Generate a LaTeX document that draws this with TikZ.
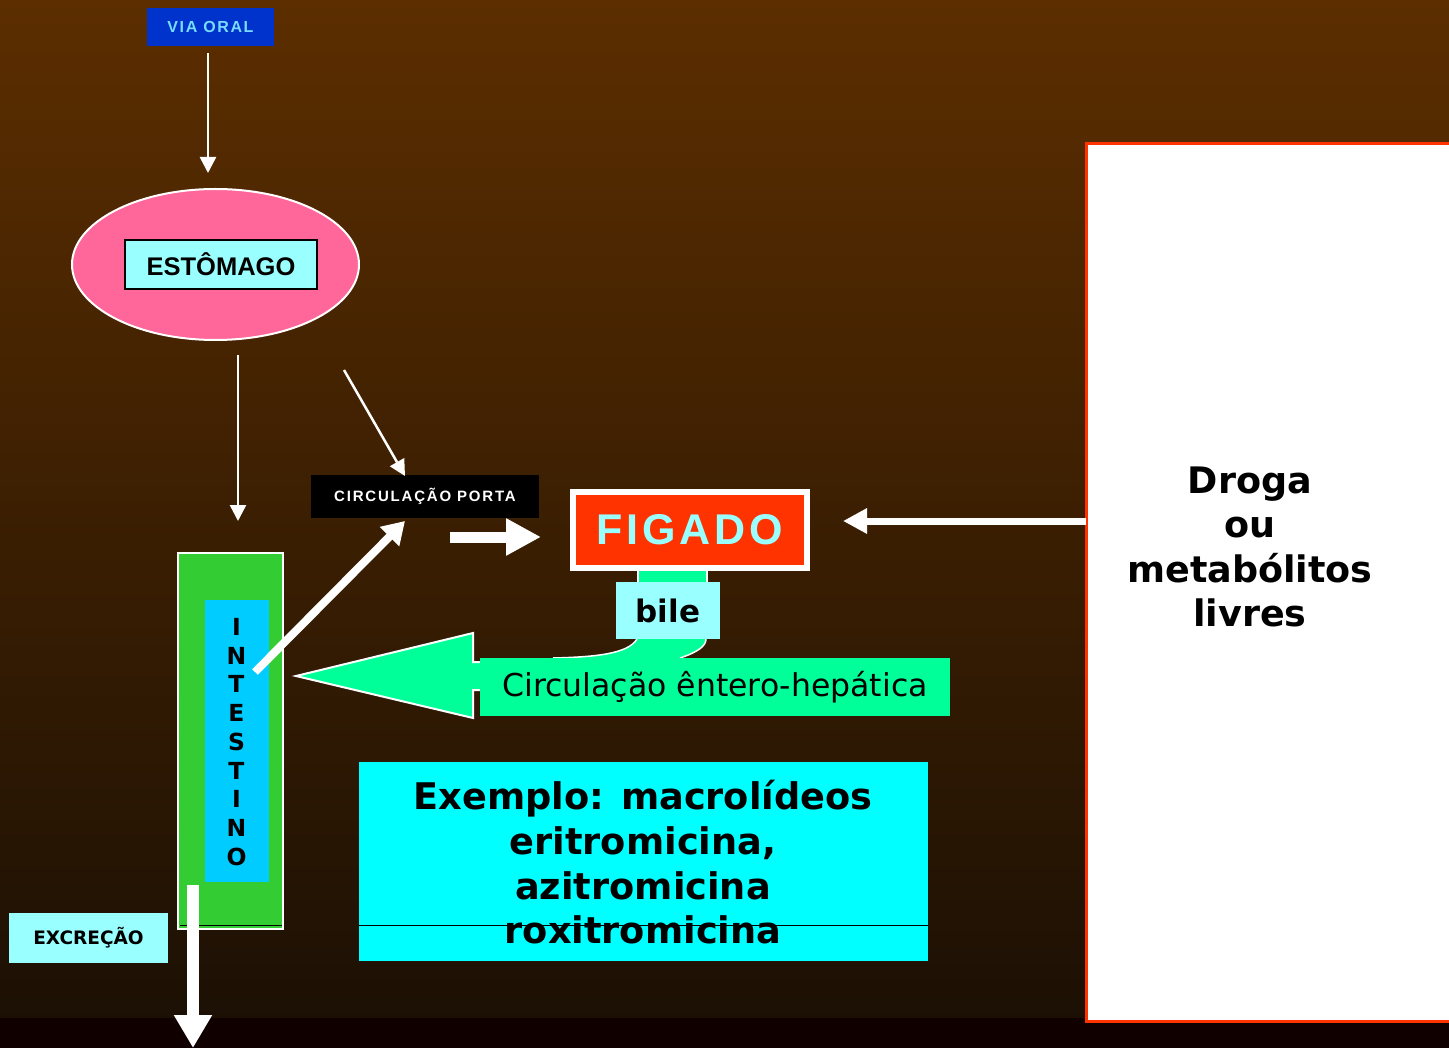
\documentclass[tikz,border=0pt]{standalone}
\usepackage{fontspec}
\setmainfont{DejaVu Sans}
\newfontfamily\lib{Liberation Sans}
\usetikzlibrary{arrows.meta,shapes.geometric}
\definecolor{bgtop}{RGB}{92,46,0}
\definecolor{bgbot}{RGB}{28,16,4}
\definecolor{bgstrip}{RGB}{16,0,0}
\definecolor{lcyan}{RGB}{153,255,255}
\definecolor{viablue}{RGB}{0,51,204}
\definecolor{viatext}{RGB}{120,220,255}
\definecolor{pinkc}{RGB}{255,102,153}
\definecolor{intgreen}{RGB}{51,204,51}
\definecolor{intblue}{RGB}{0,204,255}
\definecolor{figred}{RGB}{255,51,0}
\definecolor{mint}{RGB}{0,255,153}
\definecolor{cyanbox}{RGB}{0,255,255}
\begin{document}
\begin{tikzpicture}[x=1pt,y=-1pt,
  box/.style={inner sep=0pt,outer sep=0pt},
  thinarr/.style={draw=white,line width=2.5pt,-{Triangle[length=16pt,width=16pt]}},
  fatarr/.style={draw=white,line width=11pt,-{Triangle[length=35pt,width=35pt]}},
  diagarr/.style={draw=white,line width=8pt,-{Triangle[length=22pt,width=26pt]}},
  drogaarr/.style={draw=white,line width=7pt,-{Triangle[length=24pt,width=24pt]}},
  excarr/.style={draw=white,line width=12pt,-{Triangle[length=33pt,width=36pt]}}]
\useasboundingbox (0,0) rectangle (1449,1048);
\shade[top color=bgtop,bottom color=bgbot] (0,0) rectangle (1449,1018);
\fill[bgstrip] (0,1018) rectangle (1449,1048);

% Droga box
\node[box,draw=figred,line width=3pt,fill=white,minimum width=400pt,minimum height=877pt] (drogabox) at (1286.5,582.5) {};
\node[box,align=center,font=\bfseries\fontsize{36.5}{44.3}\selectfont] (droga) at (1250,547) {Droga\\ou\\metabólitos\\livres};

% Via oral
\node[box,fill=viablue,minimum width=127pt,minimum height=38pt,text=viatext,
  font=\lib\bfseries\fontsize{16}{16}\selectfont\addfontfeatures{LetterSpace=10}] (via) at (210.5,27) {VIA ORAL};

% Stomach
\node[box,ellipse,draw=white,line width=2pt,fill=pinkc,minimum width=287pt,minimum height=151pt] (stom) at (215.5,264.5) {};
\node[box,draw=black,line width=2pt,fill=lcyan,minimum width=192pt,minimum height=49pt,
  font=\lib\bfseries\fontsize{25.5}{25.5}\selectfont] (esto) at (221,264.5) {ESTÔMAGO};

% Circulacao porta
\node[box,fill=black,minimum width=228pt,minimum height=43pt,text=white,
  font=\lib\bfseries\fontsize{15}{15}\selectfont\addfontfeatures{LetterSpace=12}] (porta) at (425,496.5) {CIRCULAÇÃO PORTA};

% connector fig-bile
\draw[white,line width=1.5pt,fill=mint] (638,566) rectangle (707,585);

% Figado
\node[box,draw=white,line width=6pt,fill=figred,minimum width=234pt,minimum height=76pt,text=lcyan,
  font=\lib\bfseries\fontsize{43}{43}\selectfont\addfontfeatures{LetterSpace=9}] (fig) at (690,530) {FIGADO};

% bile curve
\fill[mint] (637,639) .. controls (628,654) and (595,657) .. (553,658) -- (680,658) .. controls (698,652) and (706,646) .. (706,639) -- cycle;
\draw[white,line width=1.5pt] (637,639) .. controls (628,654) and (595,657) .. (553,658);
\draw[white,line width=1.5pt] (680,658) .. controls (698,652) and (706,646) .. (706,639);

% bile
\node[box,fill=lcyan,minimum width=104pt,minimum height=57pt,
  font=\bfseries\fontsize{31}{31}\selectfont] (bile) at (668,610.5) {bile};

% green big arrow
\draw[white,line width=2pt,fill=mint] (484,662) -- (473,662) -- (473,633) -- (296,676) -- (473,718) -- (473,690) -- (484,690) -- cycle;
\node[box,fill=mint,minimum width=470pt,minimum height=58pt,
  font=\fontsize{31.5}{31.5}\selectfont] (circ) at (715,687) {Circulação êntero-hepática};

% Intestine
\node[box,draw=white,line width=2pt,fill=intgreen,minimum width=105pt,minimum height=376pt] (intest) at (230.5,741) {};
\draw[black,line width=1pt] (180,925) -- (282,925);
\node[box,fill=intblue,minimum width=64pt,minimum height=282pt] (intblue) at (237,741) {};
\node[box,align=center,font=\bfseries\fontsize{23.5}{28.75}\selectfont] (inttext) at (236.5,742) {I\\N\\T\\E\\S\\T\\I\\N\\O};

% Exemplo
\node[box,fill=cyanbox,minimum width=569pt,minimum height=199pt] (exbox) at (643.5,861.5) {};
\draw[black,line width=1pt] (359,925) -- (928,925);
\node[box,align=center,font=\bfseries\fontsize{36.7}{44.7}\selectfont] (extext) at (643,862.5) {Exemplo: macrolídeos\\eritromicina,\\azitromicina\\roxitromicina};

% Excrecao
\node[box,fill=lcyan,minimum width=159pt,minimum height=50pt,
  font=\bfseries\fontsize{18.5}{18.5}\selectfont] (exc) at (88.5,938) {EXCREÇÃO};

% connector coordinates
\coordinate (viaS) at (208,53);
\coordinate (stomN) at (208,173);
\coordinate (stomS) at (238,355);
\coordinate (intN) at (238,521);
\coordinate (stomSE) at (344,370);
\coordinate (portaN) at (405,476);
\coordinate (intA) at (255,672);
\coordinate (portaS) at (405,521);
\coordinate (portaE) at (450,537);
\coordinate (figW) at (541,537);
\coordinate (drogaW) at (1086,521);
\coordinate (figE) at (843,521);
\coordinate (intB) at (193,885);
\coordinate (excEnd) at (193,1048);

\draw[thinarr] (viaS) -- (stomN);
\draw[thinarr] (stomS) -- (intN);
\draw[thinarr] (stomSE) -- (portaN);
\draw[diagarr] (intA) -- (portaS);
\draw[fatarr] (portaE) -- (figW);
\draw[drogaarr] (drogaW) -- (figE);
\draw[excarr] (intB) -- (excEnd);
\end{tikzpicture}
\end{document}
